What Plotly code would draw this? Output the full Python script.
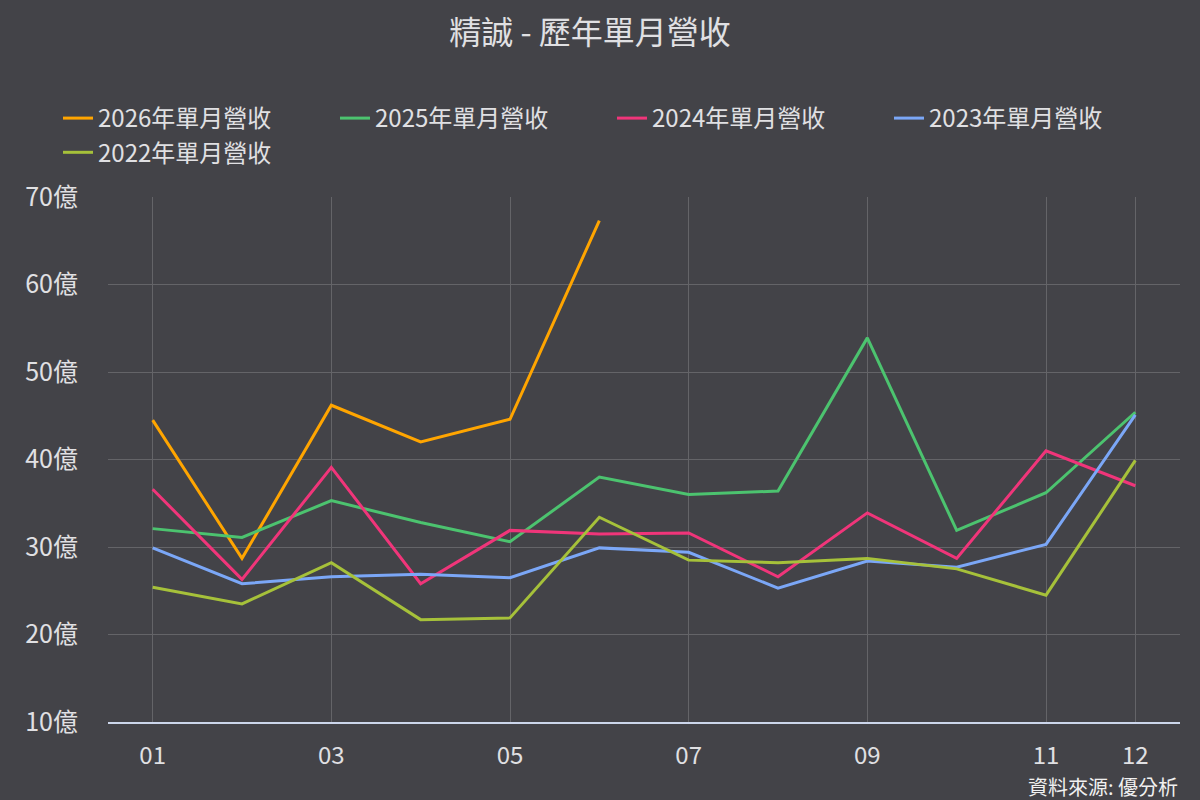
import plotly.graph_objects as go

months = [1, 2, 3, 4, 5, 6, 7, 8, 9, 10, 11, 12]
tick_vals = [1, 3, 5, 7, 9, 11, 12]
tick_text = ["01", "03", "05", "07", "09", "11", "12"]
y_tick_vals = [10, 20, 30, 40, 50, 60, 70]
y_tick_text = ["10億", "20億", "30億", "40億", "50億", "60億", "70億"]

rev_2026 = [44.5, 28.7, 46.2, 42.0, 44.6, 67.3]
rev_2025 = [32.1, 31.1, 35.3, 32.8, 30.6, 38.0, 36.0, 36.4, 53.9, 31.9, 36.2, 45.4]
rev_2024 = [36.6, 26.3, 39.1, 25.8, 31.9, 31.5, 31.6, 26.6, 33.9, 28.7, 41.0, 37.0]
rev_2023 = [29.9, 25.8, 26.6, 26.9, 26.5, 29.9, 29.4, 25.3, 28.4, 27.7, 30.3, 45.1]
rev_2022 = [25.4, 23.5, 28.2, 21.7, 21.9, 33.4, 28.5, 28.2, 28.7, 27.5, 24.5, 39.9]

series = [
    ("2026年單月營收", rev_2026, "#FFA500"),
    ("2025年單月營收", rev_2025, "#4CC36F"),
    ("2024年單月營收", rev_2024, "#F0357A"),
    ("2023年單月營收", rev_2023, "#7BA7F7"),
    ("2022年單月營收", rev_2022, "#A6C13A"),
]

FONT = "Noto Sans CJK TC"
TXT = "#E0E0E3"
BG = "#434348"

L, R, T, B = 108, 20, 197, 78
PW, PH = 1200 - L - R, 800 - T - B

fig = go.Figure()
for name, vals, color in series:
    fig.add_trace(go.Scatter(
        x=months[:len(vals)], y=vals, name=name, mode="lines",
        line=dict(color=color, width=3),
    ))

fig.update_layout(
    width=1200, height=800,
    paper_bgcolor=BG, plot_bgcolor=BG,
    margin=dict(l=L, r=R, t=T, b=B, autoexpand=False),
    font=dict(family=FONT, color=TXT, size=22),
    title=dict(text="精誠 - 歷年單月營收", x=590 / 1200, xanchor="center",
               y=1 - 33 / 800, yanchor="middle", yref="container",
               font=dict(size=32, color=TXT, family=FONT)),
    legend=dict(orientation="h", xref="paper", yref="paper",
                x=(58 - L) / PW, xanchor="left",
                y=1 + (T - 96) / PH, yanchor="top",
                font=dict(size=24, color=TXT, family=FONT),
                entrywidth=232, entrywidthmode="pixels",
                bgcolor="rgba(0,0,0,0)", tracegroupgap=0),
    showlegend=True,
    hovermode=False,
)

fig.update_xaxes(
    range=[0.5, 12.5], tickmode="array", tickvals=tick_vals, ticktext=tick_text,
    showgrid=True, gridcolor="#646468", gridwidth=1,
    showline=True, linecolor="#CCD6EB", linewidth=2,
    zeroline=False, ticks="", ticklabelstandoff=11,
    tickfont=dict(size=24, color=TXT, family=FONT),
)
fig.update_yaxes(
    range=[10, 70], tickmode="array", tickvals=y_tick_vals, ticktext=y_tick_text,
    showgrid=True, gridcolor="#646468", gridwidth=1,
    zeroline=False, showline=False, ticks="", ticklabelstandoff=29,
    tickfont=dict(size=25, color=TXT, family=FONT),
)

fig.add_annotation(
    text="資料來源: 優分析", xref="paper", yref="paper",
    x=1, xanchor="right", y=(722 - 786) / PH, yanchor="middle",
    showarrow=False, font=dict(size=20, color="#F0F0F0", family=FONT),
)

fig.write_html("out.html")
